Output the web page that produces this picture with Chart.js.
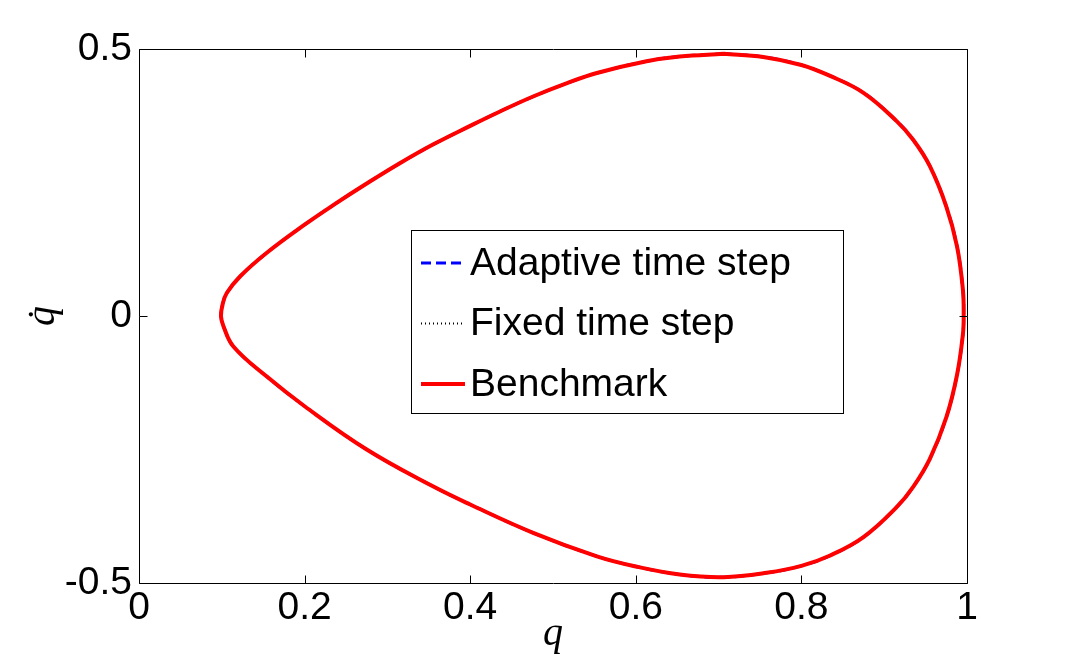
<!DOCTYPE html>
<html><head><meta charset="utf-8">
<script src="https://cdn.jsdelivr.net/npm/chart.js@4.4.0/dist/chart.umd.min.js"></script>
<style>html,body{margin:0;padding:0;background:#fff;overflow:hidden}</style>
</head><body>
<canvas id="c" width="1068" height="658" style="width:1068px;height:658px;display:block"></canvas>
<script>
// ---- data ----
const seriesLabels = ['Adaptive time step', 'Fixed time step', 'Benchmark'];
const qUpper  = [0.099, 0.101, 0.106, 0.122, 0.154, 0.200, 0.235, 0.275, 0.315, 0.355, 0.400, 0.436, 0.476, 0.517, 0.553, 0.613, 0.653, 0.706, 0.754, 0.800, 0.834, 0.875, 0.915, 0.935, 0.955, 0.975, 0.988, 0.995, 0.996];
const qdUpper = [0.000, 0.022, 0.043, 0.074, 0.118, 0.171, 0.208, 0.248, 0.286, 0.321, 0.356, 0.383, 0.411, 0.436, 0.455, 0.477, 0.486, 0.491, 0.485, 0.470, 0.450, 0.418, 0.365, 0.330, 0.281, 0.205, 0.130, 0.050, 0.000];
const qLower  = [0.996, 0.995, 0.988, 0.975, 0.955, 0.935, 0.915, 0.875, 0.834, 0.800, 0.758, 0.706, 0.653, 0.600, 0.553, 0.476, 0.400, 0.355, 0.275, 0.200, 0.154, 0.114, 0.102, 0.099];
const qdLower = [0.000, -0.035, -0.110, -0.190, -0.268, -0.320, -0.358, -0.414, -0.449, -0.468, -0.481, -0.489, -0.484, -0.469, -0.450, -0.406, -0.353, -0.319, -0.250, -0.169, -0.113, -0.057, -0.019, 0.000];
const xTicks = [0, 0.2, 0.4, 0.6, 0.8, 1];
const xTickLabels = ['0', '0.2', '0.4', '0.6', '0.8', '1'];
const yTicks = [-0.5, 0, 0.5];
const yTickLabels = ['-0.5', '0', '0.5'];
const xTitle = 'q';
const yTitle = 'q\u0307';

// ---- build the closed orbit from the arrays (start/end at the top of the loop) ----
function orbit() {
  const upper = qUpper.map((q, i) => ({x: q, y: qdUpper[i]}));
  const lower = qLower.map((q, i) => ({x: q, y: qdLower[i]}));
  let k = 0;
  qdUpper.forEach((v, i) => { if (v > qdUpper[k]) k = i; });
  return [
    ...upper.slice(k),
    ...lower.slice(1),
    ...upper.slice(1, k + 1)
  ];
}

const sansFont = "'Liberation Sans', Arial, Helvetica, sans-serif";
const serifFont = "'Liberation Serif', 'Times New Roman', 'DejaVu Serif', serif";

const framePlugin = {
  id: 'frame',
  afterDatasetsDraw(chart) {
    const {ctx, chartArea: a, scales} = chart;
    const L = Math.round(a.left) + 0.5, R = Math.round(a.right) + 0.5;
    const T = Math.round(a.top) + 0.5, B = Math.round(a.bottom) + 0.5;
    ctx.save();
    ctx.strokeStyle = '#000';
    ctx.lineWidth = 1;
    ctx.beginPath();
    ctx.rect(L, T, R - L, B - T);
    const tl = 8;
    xTicks.forEach(v => {
      const x = Math.round(scales.x.getPixelForValue(v)) + 0.5;
      ctx.moveTo(x, B); ctx.lineTo(x, B - tl);
      ctx.moveTo(x, T); ctx.lineTo(x, T + tl);
    });
    yTicks.forEach(v => {
      const y = Math.round(scales.y.getPixelForValue(v)) + 0.5;
      ctx.moveTo(L, y); ctx.lineTo(L + tl, y);
      ctx.moveTo(R, y); ctx.lineTo(R - tl, y);
    });
    ctx.stroke();
    ctx.restore();
  }
};

const legendPlugin = {
  id: 'boxLegend',
  afterDraw(chart) {
    const {ctx} = chart;
    const box = {x: 411.5, y: 230.5, w: 432, h: 183};
    ctx.save();
    ctx.fillStyle = '#fff';
    ctx.fillRect(box.x, box.y, box.w, box.h);
    ctx.strokeStyle = '#000';
    ctx.lineWidth = 1;
    ctx.strokeRect(box.x, box.y, box.w, box.h);
    const rows = [263, 323.5, 384];
    chart.data.datasets.forEach((ds, i) => {
      const y = rows[i];
      ctx.beginPath();
      ctx.strokeStyle = ds.borderColor;
      ctx.lineWidth = ds.borderWidth;
      ctx.setLineDash(ds.borderDash || []);
      ctx.moveTo(421, y); ctx.lineTo(465, y);
      ctx.stroke();
      ctx.setLineDash([]);
      ctx.fillStyle = '#000';
      ctx.font = '39px ' + sansFont;
      ctx.textBaseline = 'middle';
      ctx.textAlign = 'left';
      ctx.fillText(ds.label, 470, y + 1);
    });
    ctx.restore();
  }
};

new Chart(document.getElementById('c'), {
  type: 'scatter',
  data: {
    datasets: [
      {label: seriesLabels[0], data: orbit(), showLine: true, borderColor: '#0000ff', borderWidth: 3, borderDash: [10, 5], pointRadius: 0, tension: 0.4, order: 2},
      {label: seriesLabels[1], data: orbit(), showLine: true, borderColor: '#000000', borderWidth: 2, borderDash: [1, 3], pointRadius: 0, tension: 0.4, order: 1},
      {label: seriesLabels[2], data: orbit(), showLine: true, borderColor: '#ff0000', borderWidth: 4, pointRadius: 0, tension: 0.4, order: 0}
    ]
  },
  options: {
    responsive: false,
    animation: false,
    devicePixelRatio: 1,
    layout: {padding: {top: 49, right: 101, left: 0, bottom: 0}},
    plugins: {legend: {display: false}, tooltip: {enabled: false}},
    scales: {
      x: {
        type: 'linear', min: 0, max: 1,
        afterBuildTicks: s => { s.ticks = xTicks.map(v => ({value: v})); },
        afterFit: s => { s.height = 75; },
        grid: {display: false, drawTicks: false},
        border: {display: false},
        ticks: {color: '#000', padding: 2, maxRotation: 0, autoSkip: false,
          font: {family: sansFont, size: 39, lineHeight: 1.2},
          callback: v => xTickLabels[xTicks.indexOf(v)]},
        title: {display: true, text: xTitle, color: '#000', padding: {top: 0, bottom: 0},
          font: {family: serifFont, size: 40, style: 'italic', lineHeight: 1.2}}
      },
      y: {
        type: 'linear', min: -0.5, max: 0.5,
        afterBuildTicks: s => { s.ticks = yTicks.map(v => ({value: v})); },
        afterFit: s => { s.width = 139; },
        grid: {display: false, drawTicks: false},
        border: {display: false},
        ticks: {color: '#000', padding: 7, autoSkip: false,
          font: {family: sansFont, size: 39, lineHeight: 1.2},
          callback: v => yTickLabels[yTicks.indexOf(v)]},
        title: {display: true, text: yTitle, color: '#000', padding: {top: 19, bottom: 0},
          font: {family: serifFont, size: 40, style: 'italic', lineHeight: 1.2}}
      }
    }
  },
  plugins: [framePlugin, legendPlugin]
});
</script>
</body></html>
